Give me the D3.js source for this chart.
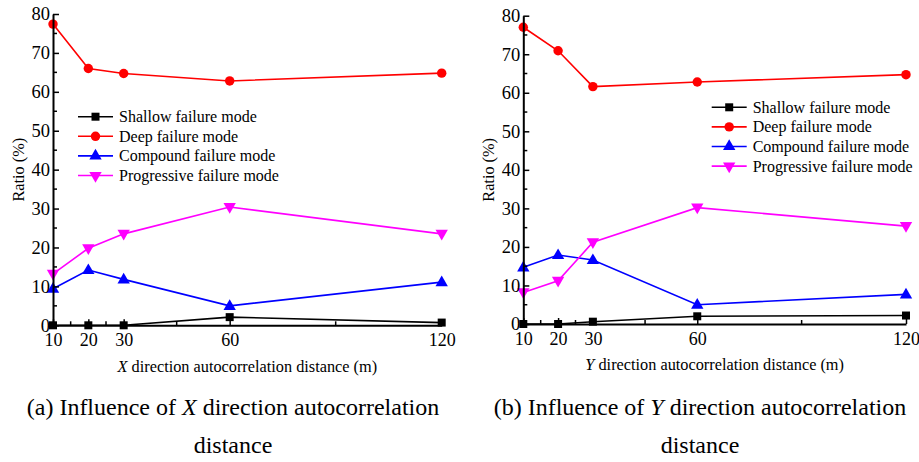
<!DOCTYPE html>
<html>
<head>
<meta charset="utf-8">
<script src="https://cdn.jsdelivr.net/npm/d3@7"></script>
<style>
  html, body { margin: 0; padding: 0; background: #fff; }
  svg { display: block; }
</style>
</head>
<body>
<svg id="chart" width="919" height="462"></svg>
<script>
// Autocorrelation distances (m) and the tick labels on the x axis
const distances = [10, 20, 30, 60, 120];
const xTickLabels = ["10", "20", "30", "60", "120"];
const xMinorTicks = [15, 25, 45, 90];
const yTicks = [0, 10, 20, 30, 40, 50, 60, 70, 80];
const yMinorTicks = [5, 15, 25, 35, 45, 55, 65, 75];

const seriesNames = ["Shallow failure mode", "Deep failure mode", "Compound failure mode", "Progressive failure mode"];
const seriesColors = ["#000000", "#ff0000", "#0000ff", "#ff00ff"];
const seriesSymbols = ["square", "circle", "triangleUp", "triangleDown"];

// (a) X direction — ratio (%) of each failure mode
const xShallow     = [0, 0, 0, 2.1, 0.7];
const xDeep        = [77.4, 66.0, 64.7, 62.8, 64.8];
const xCompound    = [9.4, 14.2, 11.8, 5.0, 11.1];
const xProgressive = [13.2, 19.8, 23.5, 30.4, 23.5];

// (b) Y direction — ratio (%) of each failure mode
const yShallow     = [0, 0, 0.6, 2.0, 2.2];
const yDeep        = [77.0, 70.9, 61.6, 62.8, 64.7];
const yCompound    = [14.7, 17.9, 16.6, 5.0, 7.7];
const yProgressive = [8.2, 11.2, 21.2, 30.2, 25.4];

const FONT = '"Liberation Serif"';
const svg = d3.select("#chart");

function symbolPath(kind) {
  if (kind === "square") return d3.symbol(d3.symbolSquare, 64)();
  if (kind === "circle") return d3.symbol(d3.symbolCircle, 70)();
  return d3.symbol(d3.symbolTriangle, 66)();
}

function serif(sel, size) {
  return sel.style("font-family", FONT).style("font-size", size + "px").style("fill", "#000");
}

function drawPanel(cfg) {
  const g = svg.append("g");
  const x = d3.scaleLinear().domain([10, 120]).range([cfg.left, cfg.right]);
  const y = d3.scaleLinear().domain([0, 80]).range([cfg.bottom, cfg.top]);

  // Series lines and markers
  cfg.series.forEach((vals, i) => {
    const pts = distances.map((d, j) => [d, vals[j]]);
    g.append("path")
      .attr("d", d3.line().x(d => x(d[0])).y(d => y(d[1]))(pts))
      .attr("fill", "none")
      .attr("stroke", seriesColors[i])
      .attr("stroke-width", 1.6);
    g.selectAll(null).data(pts).enter().append("path")
      .attr("d", symbolPath(seriesSymbols[i]))
      .attr("transform", d => `translate(${x(d[0])},${y(d[1]) + (seriesSymbols[i] === "triangleUp" ? 0.5 : seriesSymbols[i] === "triangleDown" ? -0.5 : 0)})${seriesSymbols[i] === "triangleDown" ? " rotate(180)" : ""}`)
      .attr("fill", seriesColors[i]);
  });

  // Y axis (ticks pointing inward)
  const yAxis = d3.axisLeft(y).tickValues(yTicks).tickSize(-6).tickPadding(3).tickSizeOuter(0);
  const ya = g.append("g").attr("transform", `translate(${cfg.left},0)`).call(yAxis);
  serif(ya.selectAll("text"), 18.5);
  ya.select(".domain").attr("stroke-width", 2);
  ya.selectAll(".tick line").attr("stroke-width", 1.5);
  ya.selectAll(null).data(yMinorTicks).enter().append("line")
    .attr("x1", 0).attr("x2", 4).attr("y1", d => y(d)).attr("y2", d => y(d))
    .attr("stroke", "#000").attr("stroke-width", 1.5);

  // X axis (ticks pointing inward)
  const xAxis = d3.axisBottom(x).tickValues(distances)
    .tickFormat((d, i) => xTickLabels[i]).tickSize(-6).tickPadding(8).tickSizeOuter(0);
  const xa = g.append("g").attr("transform", `translate(0,${cfg.bottom})`).call(xAxis);
  serif(xa.selectAll("text"), 18);
  xa.select(".domain").attr("stroke-width", 2);
  xa.selectAll(".tick line").attr("stroke-width", 1.5);
  xa.selectAll(null).data(xMinorTicks).enter().append("line")
    .attr("x1", d => x(d)).attr("x2", d => x(d)).attr("y1", 0).attr("y2", -4)
    .attr("stroke", "#000").attr("stroke-width", 1.5);

  // Axis titles
  const xt = serif(g.append("text"), 16.3)
    .attr("x", (cfg.left + cfg.right) / 2).attr("y", cfg.xTitleY)
    .attr("text-anchor", "middle");
  xt.append("tspan").style("font-style", "italic").text(cfg.axisLetter);
  xt.append("tspan").text(" direction autocorrelation distance (m)");

  serif(g.append("text"), 16.3)
    .attr("transform", `translate(${cfg.yTitleX},${(cfg.top + cfg.bottom) / 2}) rotate(-90)`)
    .attr("text-anchor", "middle")
    .text("Ratio (%)");

  // Legend
  seriesNames.forEach((name, i) => {
    const ly = cfg.legendY + i * 19.6;
    g.append("line")
      .attr("x1", cfg.legendX).attr("x2", cfg.legendX + 35)
      .attr("y1", ly).attr("y2", ly)
      .attr("stroke", seriesColors[i]).attr("stroke-width", 1.6);
    g.append("path")
      .attr("d", symbolPath(seriesSymbols[i]))
      .attr("transform", `translate(${cfg.legendX + 17.5},${ly})${seriesSymbols[i] === "triangleDown" ? " rotate(180)" : ""}`)
      .attr("fill", seriesColors[i]);
    serif(g.append("text"), 16)
      .attr("x", cfg.legendX + 41).attr("y", ly + 5.5)
      .text(name);
  });

  // Caption
  const cap = serif(g.append("text"), 24)
    .attr("x", cfg.captionX).attr("y", 415)
    .attr("text-anchor", "middle");
  cap.append("tspan").text(`(${cfg.tag}) Influence of `);
  cap.append("tspan").style("font-style", "italic").text(cfg.axisLetter);
  cap.append("tspan").text(" direction autocorrelation");
  serif(g.append("text"), 24)
    .attr("x", cfg.captionX).attr("y", 453)
    .attr("text-anchor", "middle")
    .text("distance");
}

drawPanel({
  left: 53, right: 441.7, top: 14, bottom: 325.3,
  series: [xShallow, xDeep, xCompound, xProgressive],
  axisLetter: "X", tag: "a",
  xTitleY: 372, yTitleX: 24,
  legendX: 78, legendY: 116.7,
  captionX: 233
});

drawPanel({
  left: 523.3, right: 906, top: 15.7, bottom: 324,
  series: [yShallow, yDeep, yCompound, yProgressive],
  axisLetter: "Y", tag: "b",
  xTitleY: 370, yTitleX: 494,
  legendX: 711.7, legendY: 107.3,
  captionX: 700
});
</script>
</body>
</html>
